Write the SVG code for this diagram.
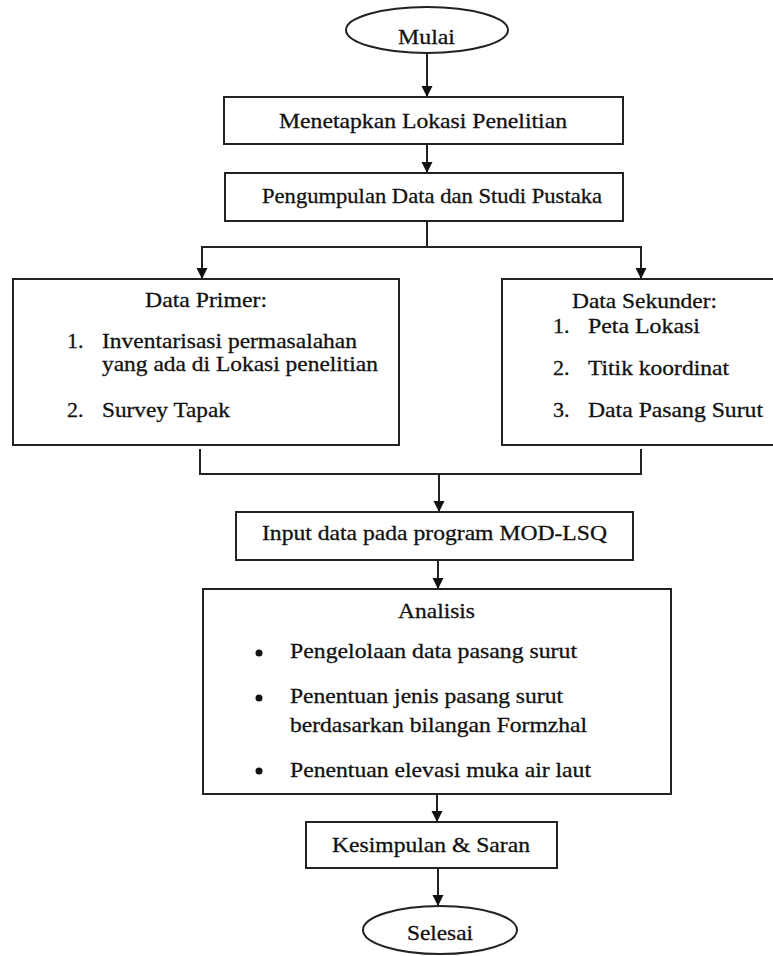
<svg xmlns="http://www.w3.org/2000/svg" width="773" height="956" viewBox="0 0 773 956">
<defs>
<style>
.box{fill:#fff;stroke:#222;stroke-width:2}
.t{font-size:22px;fill:#111;stroke:#111;stroke-width:0.3}
.ln{fill:none;stroke:#222;stroke-width:2}
.bul{fill:#111}
</style>
<marker id="ah" viewBox="0 0 10 10" refX="10" refY="5" markerWidth="11" markerHeight="12" markerUnits="userSpaceOnUse" orient="auto">
<path d="M0,0 L10,5 L0,10 z" fill="#111"/>
</marker>
</defs>
<rect width="773" height="956" fill="#fff"/>
<g id="connectors">
<line class="ln" x1="427" y1="53" x2="427" y2="97" marker-end="url(#ah)"/>
<line class="ln" x1="427" y1="144" x2="427" y2="173" marker-end="url(#ah)"/>
<polyline class="ln" points="427,221 427,247"/>
<polyline class="ln" points="202,279 202,247 641,247 641,279"/>
<line class="ln" x1="202" y1="247" x2="202" y2="279" marker-end="url(#ah)"/>
<line class="ln" x1="641" y1="247" x2="641" y2="279" marker-end="url(#ah)"/>
<polyline class="ln" points="200,449 200,474 641,474 641,449"/>
<line class="ln" x1="439" y1="474" x2="439" y2="512" marker-end="url(#ah)"/>
<line class="ln" x1="438" y1="560" x2="438" y2="589" marker-end="url(#ah)"/>
<line class="ln" x1="437" y1="794" x2="437" y2="822" marker-end="url(#ah)"/>
<line class="ln" x1="438" y1="868" x2="438" y2="906" marker-end="url(#ah)"/>
</g>
<g font-family="Liberation Serif, Times New Roman, serif">
<g id="mulai">
<ellipse class="box" cx="427" cy="30" rx="81" ry="23"/>
<text class="t" x="398" y="44" textLength="57" lengthAdjust="spacingAndGlyphs">Mulai</text>
</g>
<g id="menetapkan">
<rect class="box" x="224" y="97" width="399" height="47"/>
<text class="t" x="279" y="128" textLength="288" lengthAdjust="spacingAndGlyphs">Menetapkan Lokasi Penelitian</text>
</g>
<g id="pengumpulan">
<rect class="box" x="225" y="173" width="398" height="48"/>
<text class="t" x="262" y="203" textLength="340" lengthAdjust="spacingAndGlyphs">Pengumpulan Data dan Studi Pustaka</text>
</g>
<g id="data-primer">
<rect class="box" x="13" y="279" width="386" height="166"/>
<text class="t" x="145" y="307" textLength="122" lengthAdjust="spacingAndGlyphs">Data Primer:</text>
<text class="t" x="67" y="348">1.</text>
<text class="t" x="102" y="348" textLength="255" lengthAdjust="spacingAndGlyphs">Inventarisasi permasalahan</text>
<text class="t" x="102" y="371" textLength="276" lengthAdjust="spacingAndGlyphs">yang ada di Lokasi penelitian</text>
<text class="t" x="67" y="417">2.</text>
<text class="t" x="102" y="417" textLength="128" lengthAdjust="spacingAndGlyphs">Survey Tapak</text>
</g>
<g id="data-sekunder">
<rect class="box" x="502" y="279" width="290" height="166"/>
<text class="t" x="572" y="308" textLength="145" lengthAdjust="spacingAndGlyphs">Data Sekunder:</text>
<text class="t" x="553" y="333">1.</text>
<text class="t" x="588" y="333" textLength="112" lengthAdjust="spacingAndGlyphs">Peta Lokasi</text>
<text class="t" x="553" y="375">2.</text>
<text class="t" x="588" y="375" textLength="141" lengthAdjust="spacingAndGlyphs">Titik koordinat</text>
<text class="t" x="553" y="417">3.</text>
<text class="t" x="588" y="417" textLength="175" lengthAdjust="spacingAndGlyphs">Data Pasang Surut</text>
</g>
<g id="input">
<rect class="box" x="236" y="512" width="397" height="48"/>
<text class="t" x="262" y="540" textLength="345" lengthAdjust="spacingAndGlyphs">Input data pada program MOD-LSQ</text>
</g>
<g id="analisis">
<rect class="box" x="203" y="589" width="468" height="205"/>
<text class="t" x="398" y="618" textLength="77" lengthAdjust="spacingAndGlyphs">Analisis</text>
<circle class="bul" cx="259" cy="653" r="3.5"/>
<text class="t" x="290" y="658" textLength="287" lengthAdjust="spacingAndGlyphs">Pengelolaan data pasang surut</text>
<circle class="bul" cx="259" cy="698" r="3.5"/>
<text class="t" x="290" y="703" textLength="273" lengthAdjust="spacingAndGlyphs">Penentuan jenis pasang surut</text>
<text class="t" x="290" y="732" textLength="297" lengthAdjust="spacingAndGlyphs">berdasarkan bilangan Formzhal</text>
<circle class="bul" cx="259" cy="771" r="3.5"/>
<text class="t" x="290" y="777" textLength="301" lengthAdjust="spacingAndGlyphs">Penentuan elevasi muka air laut</text>
</g>
<g id="kesimpulan">
<rect class="box" x="306" y="822" width="251" height="46"/>
<text class="t" x="332" y="852" textLength="198" lengthAdjust="spacingAndGlyphs">Kesimpulan &amp; Saran</text>
</g>
<g id="selesai">
<ellipse class="box" cx="440" cy="930" rx="77" ry="24"/>
<text class="t" x="407" y="940" textLength="66" lengthAdjust="spacingAndGlyphs">Selesai</text>
</g>
</g>
</svg>
